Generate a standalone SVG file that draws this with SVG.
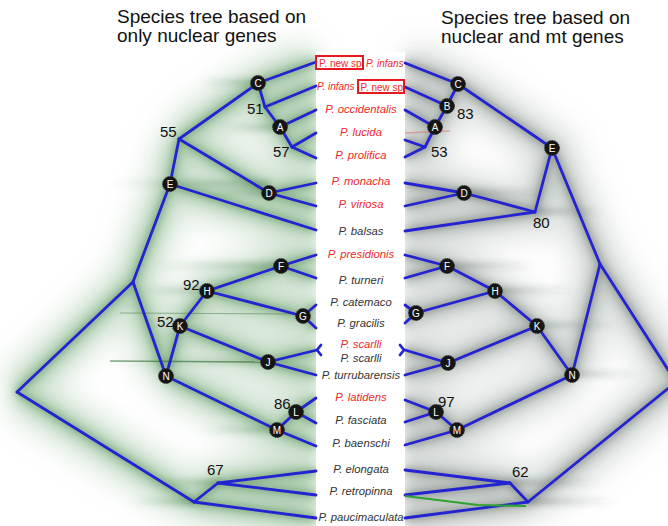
<svg xmlns="http://www.w3.org/2000/svg" width="668" height="526" viewBox="0 0 668 526">
<defs>
<style>
.title{font-family:"Liberation Sans",Arial,sans-serif;font-size:19px;fill:#111}
.tx{font-family:"Liberation Sans",Arial,sans-serif;font-size:11.3px;font-style:italic;text-anchor:middle}
.red{fill:#ee2a2a}
.blk{fill:#333}
.sm{font-family:"Liberation Sans",Arial,sans-serif;font-size:10px}
.box{fill:none;stroke:#e8191e;stroke-width:2}
.e{stroke:#2323d2;stroke-width:2.8;fill:none;stroke-linecap:round;stroke-linejoin:round}
.n circle{fill:#151515;stroke:#333;stroke-width:1;stroke-dasharray:1.5 1}
.n text{font-family:"Liberation Sans",Arial,sans-serif;font-size:10px;fill:#fff;text-anchor:middle}
.sup{font-family:"Liberation Sans",Arial,sans-serif;font-size:15px;fill:#111}
.cw{fill:none;stroke-width:46;stroke-opacity:0.42}
.cm{fill:none;stroke-width:20;stroke-opacity:0.32}
.cn{fill:none;stroke-width:7;stroke-opacity:0.38}
</style>
<filter id="b1" x="-20%" y="-20%" width="140%" height="140%"><feGaussianBlur stdDeviation="3"/></filter>
<filter id="b3" x="-20%" y="-20%" width="140%" height="140%"><feGaussianBlur stdDeviation="7"/></filter>
<filter id="b2" x="-30%" y="-30%" width="160%" height="160%"><feGaussianBlur stdDeviation="14"/></filter>
<linearGradient id="gl" x1="0" x2="1" y1="0" y2="0"><stop offset="0" stop-color="#2f6b35" stop-opacity="0"/><stop offset="1" stop-color="#2f6b35" stop-opacity="0.45"/></linearGradient>
<linearGradient id="gr" x1="1" x2="0" y1="0" y2="0"><stop offset="0" stop-color="#3a4440" stop-opacity="0"/><stop offset="1" stop-color="#3a4440" stop-opacity="0.4"/></linearGradient>
<path id="cl" d="M258 83L316 62 M258 83L265 107 L316 86 M265 107L280 127L316 110 M280 127L292 147L316 133 M292 147L316 158 M179 139L258 83 M179 139L269 193L316 183 M269 193L316 206 M170 184L179 139 M170 184L316 230 M133 282L170 184 M133 282L166 376 M17 392L133 282 M17 392L194 502 M166 376L180 326L207 291L281 266L316 255 M281 266L316 278 M207 291L303 316L316 305 M303 316L316 328 M180 326L268 362L317 350 M268 362L316 375 M166 376L277 430L296 412L316 398 M296 412L316 423 M277 430L316 446 M194 502L218 483L316 471 M218 483L316 495 M194 502L316 518"/>
<path id="cr" d="M458 84L405 63 M458 84L447 106L405 87 M447 106L435 127L405 110 M435 127L425 147L405 140 M425 147L405 157 M458 84L552 148L535 212L464 193L405 183 M464 193L405 206 M535 212L405 231 M552 148L600 264L572 375 M600 264L676 382 M528 502L676 382 M572 375L537 326L495 291L447 266L405 255 M447 266L405 278 M495 291L416 313L405 305 M416 313L405 323 M537 326L448 363L405 350 M448 363L405 375 M572 375L457 430L436 412L405 400 M436 412L405 422 M457 430L405 445 M528 502L510 483L405 470 M510 483L405 495 M528 502L405 518"/>
</defs>
<rect width="668" height="526" fill="#fff"/>

<g id="clouds">
<use href="#cl" class="cw" stroke="#9cc29f" filter="url(#b2)"/>
<use href="#cl" class="cm" stroke="#5f9a64" filter="url(#b3)"/>
<use href="#cl" class="cn" stroke="#3a7a41" filter="url(#b1)"/>
<use href="#cr" class="cw" stroke="#b3bdb7" filter="url(#b2)"/>
<use href="#cr" class="cm" stroke="#7d8a83" filter="url(#b3)"/>
<use href="#cr" class="cn" stroke="#4f5c56" filter="url(#b1)"/>
<g filter="url(#b1)">
<rect x="200" y="80" width="60" height="5" fill="url(#gl)"/>
<rect x="220" y="125" width="62" height="5" fill="url(#gl)"/>
<rect x="110" y="181" width="160" height="5" fill="url(#gl)"/>
<rect x="200" y="190" width="70" height="5" fill="url(#gl)"/>
<rect x="150" y="263" width="132" height="5" fill="url(#gl)"/>
<rect x="140" y="288" width="68" height="5" fill="url(#gl)"/>
<rect x="110" y="359" width="160" height="4" fill="url(#gl)"/>
<rect x="200" y="427" width="78" height="5" fill="url(#gl)"/>
<rect x="150" y="480" width="70" height="5" fill="url(#gl)"/>
<rect x="130" y="499" width="66" height="5" fill="url(#gl)"/>
<rect x="458" y="190" width="90" height="5" fill="url(#gr)"/>
<rect x="535" y="209" width="70" height="5" fill="url(#gr)"/>
<rect x="447" y="263" width="90" height="5" fill="url(#gr)"/>
<rect x="495" y="288" width="80" height="5" fill="url(#gr)"/>
<rect x="537" y="323" width="80" height="4" fill="url(#gr)"/>
<rect x="572" y="372" width="70" height="4" fill="url(#gr)"/>
<rect x="510" y="480" width="90" height="5" fill="url(#gr)"/>
<rect x="528" y="499" width="90" height="5" fill="url(#gr)"/>
</g>
<line x1="120" y1="313" x2="303" y2="314" stroke="#3a6e3c" stroke-opacity="0.45" stroke-width="1.2"/>
<line x1="110" y1="361" x2="268" y2="362" stroke="#2e6a31" stroke-opacity="0.6" stroke-width="1.5"/>
<rect x="316" y="52" width="89" height="474" fill="#fff"/>
</g>

<g id="titles">
<text class="title" x="117" y="23">Species tree based on</text>
<text class="title" x="117" y="42">only nuclear genes</text>
<text class="title" x="441" y="24">Species tree based on</text>
<text class="title" x="441" y="43">nuclear and mt genes</text>
</g>

<g id="connectors">
<g class="e">
<path d="M258 83L316 62"/><path d="M258 83L265 107"/><path d="M265 107L316 86"/><path d="M265 107L280 127"/>
<path d="M280 127L316 110"/><path d="M280 127L292 147"/><path d="M292 147L316 133"/><path d="M292 147L316 158"/>
<path d="M179 139L258 83"/><path d="M179 139L269 193"/><path d="M269 193L316 183"/><path d="M269 193L316 206"/>
<path d="M170 184L179 139"/><path d="M170 184L316 230"/><path d="M133 282L170 184"/><path d="M133 282L166 376"/>
<path d="M17 392L133 282"/><path d="M17 392L194 502"/><path d="M166 376L180 326"/><path d="M180 326L207 291"/>
<path d="M207 291L281 266"/><path d="M281 266L316 255"/><path d="M281 266L316 278"/><path d="M207 291L303 316"/>
<path d="M303 316L316 305"/><path d="M303 316L316 328"/><path d="M180 326L268 362"/><path d="M268 362L317 350"/>
<path d="M321 345L317 350L321 355"/>
<path d="M268 362L316 375"/><path d="M166 376L277 430"/><path d="M277 430L296 412"/><path d="M296 412L316 398"/>
<path d="M296 412L316 423"/><path d="M277 430L316 446"/><path d="M194 502L218 483"/><path d="M218 483L316 471"/>
<path d="M218 483L316 495"/><path d="M194 502L316 518"/>

<path d="M458 84L405 63"/><path d="M458 84L447 106"/><path d="M447 106L405 87"/><path d="M447 106L435 127"/>
<path d="M435 127L405 110"/><path d="M435 127L425 147"/><path d="M425 147L405 140"/><path d="M425 147L405 157"/>
<path d="M458 84L552 148"/><path d="M552 148L535 212"/><path d="M535 212L464 193"/><path d="M464 193L405 183"/>
<path d="M464 193L405 206"/><path d="M535 212L405 231"/><path d="M552 148L600 264"/><path d="M600 264L572 375"/>
<path d="M600 264L676 382"/><path d="M528 502L676 382"/><path d="M572 375L537 326"/><path d="M537 326L495 291"/>
<path d="M495 291L447 266"/><path d="M447 266L405 255"/><path d="M447 266L405 278"/><path d="M495 291L416 313"/>
<path d="M416 313L405 305"/><path d="M416 313L405 323"/><path d="M537 326L448 363"/><path d="M448 363L405 350"/>
<path d="M400 345L404 350L400 355"/>
<path d="M448 363L405 375"/><path d="M572 375L457 430"/><path d="M457 430L436 412"/><path d="M436 412L405 400"/>
<path d="M436 412L405 422"/><path d="M457 430L405 445"/><path d="M528 502L510 483"/><path d="M510 483L405 470"/>
<path d="M510 483L405 495"/><path d="M528 502L405 518"/>
</g>
<path d="M405 133L450 131" stroke="#e06060" stroke-opacity="0.45" stroke-width="1.5" fill="none"/>
<path d="M405 496L478 505L526 506" stroke="#2fa32f" stroke-width="2" fill="none"/>
</g>

<g id="taxa">
<g id="t-row1">
<rect class="box" x="316" y="56" width="47" height="13"/>
<text class="sm red" x="319" y="66.5">P. new sp</text>
<text class="sm red" x="366" y="66.5" font-style="italic">P. infans</text>
</g>
<g id="t-row2">
<text class="sm red" x="317" y="90" font-style="italic">P. infans</text>
<rect class="box" x="358" y="80" width="46" height="13"/>
<text class="sm red" x="360.5" y="90.5">P. new sp</text>
</g>
<text class="tx red" x="361" y="113">P. occidentalis</text>
<text class="tx red" x="361" y="136">P. lucida</text>
<text class="tx red" x="361" y="159">P. prolifica</text>
<text class="tx red" x="361" y="185">P. monacha</text>
<text class="tx red" x="361" y="208">P. viriosa</text>
<text class="tx blk" x="361" y="235">P. balsas</text>
<text class="tx red" x="361" y="258">P. presidionis</text>
<text class="tx blk" x="361" y="284">P. turneri</text>
<text class="tx blk" x="361" y="306">P. catemaco</text>
<text class="tx blk" x="361" y="327">P. gracilis</text>
<text class="tx red" x="361" y="348">P. scarlli</text>
<text class="tx blk" x="361" y="362">P. scarlli</text>
<text class="tx blk" x="361" y="379">P. turrubarensis</text>
<text class="tx red" x="361" y="401">P. latidens</text>
<text class="tx blk" x="361" y="424">P. fasciata</text>
<text class="tx blk" x="361" y="447">P. baenschi</text>
<text class="tx blk" x="361" y="473">P. elongata</text>
<text class="tx blk" x="361" y="495">P. retropinna</text>
<text class="tx blk" x="361" y="521">P. paucimaculata</text>
</g>

<g id="support">
<text class="sup" x="160" y="137">55</text>
<text class="sup" x="247" y="114">51</text>
<text class="sup" x="273" y="157">57</text>
<text class="sup" x="183" y="290">92</text>
<text class="sup" x="157" y="327">52</text>
<text class="sup" x="274" y="409">86</text>
<text class="sup" x="207" y="475">67</text>
<text class="sup" x="457" y="119">83</text>
<text class="sup" x="431" y="157">53</text>
<text class="sup" x="533" y="228">80</text>
<text class="sup" x="438" y="407">97</text>
<text class="sup" x="512" y="477">62</text>
</g>

<g id="nodes-left">
<g id="nL-C" class="n"><circle cx="258" cy="83" r="7.5"/><text x="258" y="86.5">C</text></g>
<g id="nL-A" class="n"><circle cx="280" cy="127" r="7.5"/><text x="280" y="130.5">A</text></g>
<g id="nL-E" class="n"><circle cx="170" cy="184" r="7.5"/><text x="170" y="187.5">E</text></g>
<g id="nL-D" class="n"><circle cx="269" cy="193" r="7.5"/><text x="269" y="196.5">D</text></g>
<g id="nL-F" class="n"><circle cx="281" cy="266" r="7.5"/><text x="281" y="269.5">F</text></g>
<g id="nL-H" class="n"><circle cx="207" cy="291" r="7.5"/><text x="207" y="294.5">H</text></g>
<g id="nL-G" class="n"><circle cx="303" cy="316" r="7.5"/><text x="303" y="319.5">G</text></g>
<g id="nL-K" class="n"><circle cx="180" cy="326" r="7.5"/><text x="180" y="329.5">K</text></g>
<g id="nL-J" class="n"><circle cx="268" cy="362" r="7.5"/><text x="268" y="365.5">J</text></g>
<g id="nL-N" class="n"><circle cx="166" cy="376" r="7.5"/><text x="166" y="379.5">N</text></g>
<g id="nL-L" class="n"><circle cx="296" cy="412" r="7.5"/><text x="296" y="415.5">L</text></g>
<g id="nL-M" class="n"><circle cx="277" cy="430" r="7.5"/><text x="277" y="433.5">M</text></g>
</g>
<g id="nodes-right">
<g id="nR-C" class="n"><circle cx="458" cy="84" r="7.5"/><text x="458" y="87.5">C</text></g>
<g id="nR-B" class="n"><circle cx="447" cy="106" r="7.5"/><text x="447" y="109.5">B</text></g>
<g id="nR-A" class="n"><circle cx="435" cy="127" r="7.5"/><text x="435" y="130.5">A</text></g>
<g id="nR-E" class="n"><circle cx="552" cy="148" r="7.5"/><text x="552" y="151.5">E</text></g>
<g id="nR-D" class="n"><circle cx="464" cy="193" r="7.5"/><text x="464" y="196.5">D</text></g>
<g id="nR-F" class="n"><circle cx="447" cy="266" r="7.5"/><text x="447" y="269.5">F</text></g>
<g id="nR-H" class="n"><circle cx="495" cy="291" r="7.5"/><text x="495" y="294.5">H</text></g>
<g id="nR-G" class="n"><circle cx="416" cy="313" r="7.5"/><text x="416" y="316.5">G</text></g>
<g id="nR-K" class="n"><circle cx="537" cy="326" r="7.5"/><text x="537" y="329.5">K</text></g>
<g id="nR-J" class="n"><circle cx="448" cy="363" r="7.5"/><text x="448" y="366.5">J</text></g>
<g id="nR-N" class="n"><circle cx="572" cy="375" r="7.5"/><text x="572" y="378.5">N</text></g>
<g id="nR-L" class="n"><circle cx="436" cy="412" r="7.5"/><text x="436" y="415.5">L</text></g>
<g id="nR-M" class="n"><circle cx="457" cy="430" r="7.5"/><text x="457" y="433.5">M</text></g>
</g>
</svg>
